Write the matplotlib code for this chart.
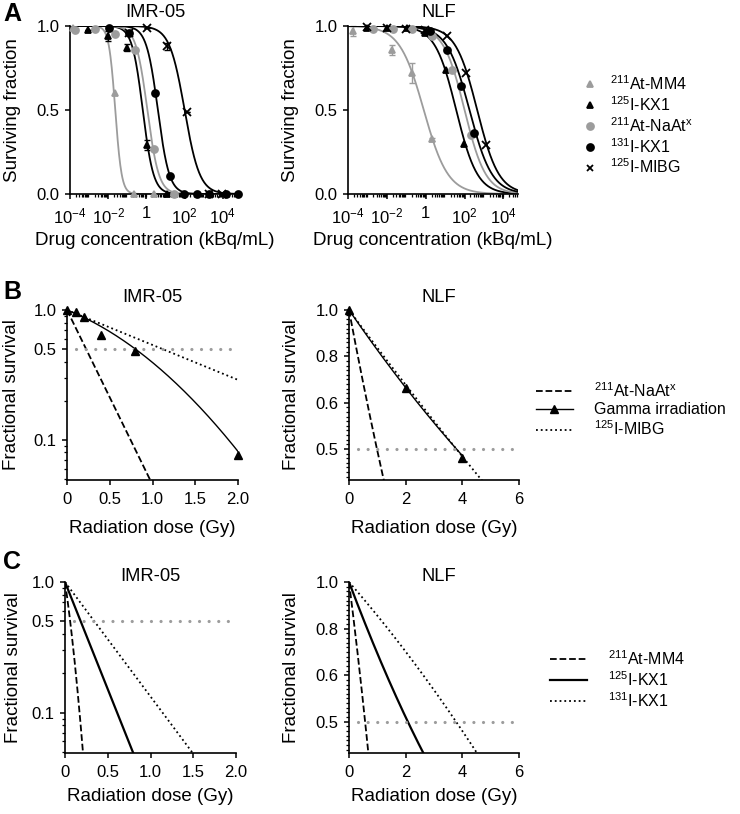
import numpy as np
import matplotlib
matplotlib.use("Agg")
import matplotlib.pyplot as plt
from matplotlib.lines import Line2D
from matplotlib.ticker import FixedLocator, FixedFormatter, NullFormatter, LogLocator

plt.rcParams["font.family"] = ["Liberation Sans", "DejaVu Sans"]
plt.rcParams["mathtext.fontset"] = "custom"
plt.rcParams["mathtext.rm"] = "Liberation Sans"
plt.rcParams["mathtext.it"] = "Liberation Sans:italic"
plt.rcParams["font.size"] = 13.5

gray = "#9c9c9c"

# ---------------- panel A: dose response, x = log10(kBq/mL) ----------------
agents_a = [r"$^{211}$At-MM4", r"$^{125}$I-KX1", r"$^{211}$At-NaAt$^{\mathrm{x}}$",
            r"$^{131}$I-KX1", r"$^{125}$I-MIBG"]
colors_a = [gray, "black", gray, "black", "black"]
markers_a = ["^", "^", "o", "o", "x"]

# IMR-05 measured points
imr_mm4_logc = [-3.82, -1.67, -0.67, 0.39]
imr_mm4_sf = [0.99, 0.60, 0.0, 0.0]
imr_kx125_logc = [-3.07, -2.02, -1.02, 0.04, 1.09]
imr_kx125_sf = [0.975, 0.94, 0.87, 0.29, 0.0]
imr_naat_logc = [-3.74, -2.68, -1.67, -0.61, 0.39, 1.44]
imr_naat_sf = [0.975, 0.985, 0.95, 0.86, 0.27, 0.0]
imr_kx131_logc = [-1.98, -0.93, 0.47, 1.26, 1.96, 2.67, 3.28, 4.16, 4.82]
imr_kx131_sf = [0.99, 0.96, 0.60, 0.107, 0.0, 0.0, 0.0, 0.0, 0.0]
imr_mibg_logc = [-0.93, 0.04, 1.09, 2.14, 3.28, 3.98]
imr_mibg_sf = [0.96, 0.99, 0.88, 0.49, 0.0, 0.0]
imr_kx125_err = [0.0, 0.03, 0.02, 0.03, 0.0]
imr_mibg_err = [0.0, 0.0, 0.02, 0.0, 0.0, 0.0]
# fitted logIC50 and Hill slopes
imr_logic50 = [-1.63, -0.19, 0.05, 0.60, 2.00]
imr_hill = [2.6, 1.55, 1.45, 1.45, 1.1]

# NLF measured points
nlf_mm4_logc = [-3.72, -1.74, -0.71, 0.33]
nlf_mm4_sf = [0.97, 0.857, 0.72, 0.325]
nlf_mm4_err = [0.03, 0.03, 0.06, 0.01]
nlf_kx125_logc = [-3.03, -2.0, -0.97, -0.02, 1.02, 1.97]
nlf_kx125_sf = [0.99, 0.99, 0.99, 0.96, 0.74, 0.30]
nlf_naat_logc = [-2.69, -1.66, -0.71, 0.33, 1.36, 2.31]
nlf_naat_sf = [0.985, 0.985, 0.98, 0.94, 0.74, 0.35]
nlf_kx131_logc = [0.2, 1.1, 1.8, 2.5]
nlf_kx131_sf = [0.97, 0.857, 0.64, 0.365]
nlf_mibg_logc = [-3.03, -2.0, -1.0, -0.02, 1.1, 2.05, 3.09]
nlf_mibg_sf = [0.995, 0.99, 0.985, 0.975, 0.94, 0.72, 0.29]
nlf_logic50 = [-0.10, 1.57, 2.00, 2.25, 2.65]
nlf_hill = [0.7, 0.8, 0.8, 0.75, 0.78]

# ---------------- panels B and C: LQ fits S = exp(-a D - b D^2) ----------------
b_labels = [r"$^{211}$At-NaAt$^{\mathrm{x}}$", "Gamma irradiation", r"$^{125}$I-MIBG"]
b_imr_alpha = [3.1, 0.607, 0.62]
b_imr_beta = [0.0, 0.324, 0.0]
b_nlf_alpha = [0.75, 0.205, 0.19]
b_nlf_beta = [-0.05, -0.006, -0.002]
gamma_imr_dose = [0, 0.1, 0.2, 0.4, 0.8, 2.0]
gamma_imr_sf = [1.0, 0.97, 0.88, 0.64, 0.48, 0.076]
gamma_nlf_dose = [0, 2, 4]
gamma_nlf_sf = [1.0, 0.68, 0.48]

c_labels = [r"$^{211}$At-MM4", r"$^{125}$I-KX1", r"$^{131}$I-KX1"]
c_imr_alpha = [10.3, 3.78, 2.02]
c_imr_beta = [19.0, 0.0, 0.0]
c_nlf_alpha = [1.1, 0.372, 0.16]
c_nlf_beta = [0.2, -0.019, 0.006]

styles = ["--", "-", ":"]

fig = plt.figure(figsize=(7.4, 8.14), dpi=100)
W, H = 740, 814


def add_ax(x0, x1, y0, y1):
    return fig.add_axes([x0 / W, 1 - y1 / H, (x1 - x0) / W, (y1 - y0) / H])


def style(ax):
    for s in ["top", "right"]:
        ax.spines[s].set_visible(False)
    for s in ["left", "bottom"]:
        ax.spines[s].set_linewidth(1.2)
    ax.tick_params(which="major", length=3.8, width=1.1, labelsize=12)
    ax.tick_params(which="minor", length=2.3, width=0.9)
    ax.tick_params(axis="x", which="major", pad=5)


def hill(logc, logic50, h):
    return 1.0 / (1.0 + 10 ** ((logc - logic50) * h))


def lq(d, a, b):
    return np.exp(-a * d - b * d ** 2)


# ---------- A ----------
a_data = {
    "IMR-05": ([imr_mm4_logc, imr_kx125_logc, imr_naat_logc, imr_kx131_logc, imr_mibg_logc],
               [imr_mm4_sf, imr_kx125_sf, imr_naat_sf, imr_kx131_sf, imr_mibg_sf],
               [None, imr_kx125_err, None, None, imr_mibg_err],
               imr_logic50, imr_hill, 4.9),
    "NLF": ([nlf_mm4_logc, nlf_kx125_logc, nlf_naat_logc, nlf_kx131_logc, nlf_mibg_logc],
            [nlf_mm4_sf, nlf_kx125_sf, nlf_naat_sf, nlf_kx131_sf, nlf_mibg_sf],
            [nlf_mm4_err, None, None, None, None],
            nlf_logic50, nlf_hill, 4.75),
}
ax_a = [add_ax(70, 240, 26, 194), add_ax(348, 518, 26, 194)]
for ax, (name, (xs, ys, errs, ic, hs, xmax)) in zip(ax_a, a_data.items()):
    g = np.linspace(-4, xmax, 400)
    for i in range(5):
        ax.plot(10 ** g, hill(g, ic[i], hs[i]), color=colors_a[i], lw=1.3)
        xv = 10 ** np.array(xs[i])
        if errs[i] is not None:
            ax.errorbar(xv, ys[i], yerr=errs[i], fmt="none", ecolor=colors_a[i],
                        elinewidth=1, capsize=2.5, clip_on=False)
        ax.plot(xv, ys[i], linestyle="none", marker=markers_a[i], color=colors_a[i],
                ms=5 if markers_a[i] != "x" else 5.5, mew=1.3, clip_on=False, zorder=3)
    ax.set_xscale("log")
    ax.set_xlim(1e-4, 10 ** xmax)
    ax.set_ylim(0, 1.0)
    ax.set_yticks([0, 0.5, 1.0])
    ax.set_yticklabels(["0.0", "0.5", "1.0"])
    ax.xaxis.set_major_locator(FixedLocator([1e-4, 1e-2, 1, 1e2, 1e4]))
    ax.xaxis.set_major_formatter(FixedFormatter([r"10$^{-4}$", r"10$^{-2}$", "1",
                                                 r"10$^{2}$", r"10$^{4}$"]))
    ax.xaxis.set_minor_locator(LogLocator(base=10, subs=np.arange(2, 10), numticks=20))
    ax.xaxis.set_minor_formatter(NullFormatter())
    style(ax)
    ax.set_xlabel("Drug concentration (kBq/mL)")
    ax.set_ylabel("Surviving fraction")
    ax.xaxis.set_label_coords(0.5, -0.226)
    ax.yaxis.set_label_coords(-0.29, 0.5)
    ax.text(0.5 if name == "IMR-05" else 0.535, 1.083, name, transform=ax.transAxes,
            ha="center", va="center", fontsize=13.2)

handles_a = [Line2D([], [], linestyle="none", marker=markers_a[i], color=colors_a[i],
                    ms=5, mew=1.3) for i in range(5)]
fig.legend(handles_a, agents_a, loc="upper left", bbox_to_anchor=(582 / W, 1 - 74 / H),
           frameon=False, handlelength=1.0, handletextpad=0.75, labelspacing=0.14,
           fontsize=11.5, borderaxespad=0, borderpad=0)


# ---------- B / C ----------
def setup_dose_ax(ax, left):
    if left:
        ax.set_xlim(0, 2)
        ax.set_ylim(10 ** -1.31, 1.0)
        ax.set_yscale("log")
        ax.yaxis.set_major_locator(FixedLocator([0.1, 0.5, 1.0]))
        ax.yaxis.set_major_formatter(FixedFormatter(["0.1", "0.5", "1.0"]))
        ax.yaxis.set_minor_locator(FixedLocator([0.05, 0.06, 0.07, 0.08, 0.09, 0.2, 0.3,
                                                 0.4, 0.6, 0.7, 0.8, 0.9]))
        ax.set_xticks([0, 0.5, 1.0, 1.5, 2.0])
        ax.set_xticklabels(["0", "0.5", "1.0", "1.5", "2.0"])
    else:
        ax.set_xlim(0, 6)
        ax.set_ylim(10 ** -0.367, 1.0)
        ax.set_yscale("log")
        ax.yaxis.set_major_locator(FixedLocator([10 ** -0.3, 10 ** -0.2, 10 ** -0.1, 1.0]))
        ax.yaxis.set_major_formatter(FixedFormatter(["0.5", "0.6", "0.8", "1.0"]))
        ax.yaxis.set_minor_locator(FixedLocator(10 ** -np.arange(0.01, 0.367, 0.01)))
        ax.set_xticks([0, 2, 4, 6])
        ax.set_xticklabels(["0", "2", "4", "6"])
    ax.yaxis.set_minor_formatter(NullFormatter())
    style(ax)
    ax.set_xlabel("Radiation dose (Gy)")
    ax.set_ylabel("Fractional survival")


half_line_imr = [0.11, 1.95]
half_line_nlf = [0.33, 5.8]

rows = [
    ("B", 310, 480, 1.076, b_imr_alpha, b_imr_beta, b_nlf_alpha, b_nlf_beta, -0.235, -0.275),
    ("C", 582, 753, 1.03, c_imr_alpha, c_imr_beta, c_nlf_alpha, c_nlf_beta, -0.205, -0.25),
]
for tag, y0, y1, ty, ia, ib, na, nb, xl, yl in rows:
    axl = add_ax(67 if tag == "B" else 65, 238 if tag == "B" else 236, y0, y1)
    axr = add_ax(349, 519, y0, y1)
    for ax, al, be, xmax, hl, name, tx in [(axl, ia, ib, 2.0, half_line_imr, "IMR-05", 0.5),
                                          (axr, na, nb, 6.0, half_line_nlf, "NLF", 0.53)]:
        setup_dose_ax(ax, ax is axl)
        for i in range(3):
            if tag == "B" and i == 1:
                dmax = gamma_imr_dose[-1] if ax is axl else gamma_nlf_dose[-1]
            else:
                dmax = xmax
            d = np.linspace(0, dmax, 300)
            lw = 1.0 if (tag == "B" and i == 1) else (1.6 if i == 1 else 1.3)
            ax.plot(d, lq(d, al[i], be[i]), color="black", linestyle=styles[i], lw=lw)
        ax.plot(hl, [0.5, 0.5], color=gray, lw=2.3, linestyle=(0, (0.01, 3.0)),
                dash_capstyle="round")
        if tag == "B":
            gd, gs = (gamma_imr_dose, gamma_imr_sf) if ax is axl else (gamma_nlf_dose, gamma_nlf_sf)
            ax.plot(gd, gs, linestyle="none", marker="^", color="black", ms=5.5,
                    clip_on=False, zorder=3)
        ax.xaxis.set_label_coords(0.5, xl)
        ax.yaxis.set_label_coords(yl if ax is axl else -0.288, 0.5)
        ax.text(tx, ty, name, transform=ax.transAxes, ha="center", va="center", fontsize=13.2)

handles_b = [Line2D([], [], color="black", linestyle="--", lw=1.3),
             Line2D([], [], color="black", linestyle="-", lw=1.0, marker="^", ms=5.5),
             Line2D([], [], color="black", linestyle=":", lw=1.3)]
fig.legend(handles_b, b_labels, loc="upper left", bbox_to_anchor=(536 / W, 1 - 381 / H),
           frameon=False, handlelength=2.3, handletextpad=1.3, labelspacing=0.15,
           fontsize=11.5, borderaxespad=0, borderpad=0)
handles_c = [Line2D([], [], color="black", linestyle="--", lw=1.3),
             Line2D([], [], color="black", linestyle="-", lw=1.6),
             Line2D([], [], color="black", linestyle=":", lw=1.3)]
fig.legend(handles_c, c_labels, loc="upper left", bbox_to_anchor=(550 / W, 1 - 649 / H),
           frameon=False, handlelength=2.3, handletextpad=1.3, labelspacing=0.15,
           fontsize=11.5, borderaxespad=0, borderpad=0)

for lab, yy in [("A", 14), ("B", 292), ("C", 562)]:
    fig.text(3 / W, 1 - yy / H, lab, fontsize=18, fontweight="bold", va="center", ha="left")

fig.savefig("out.png", dpi=100)
